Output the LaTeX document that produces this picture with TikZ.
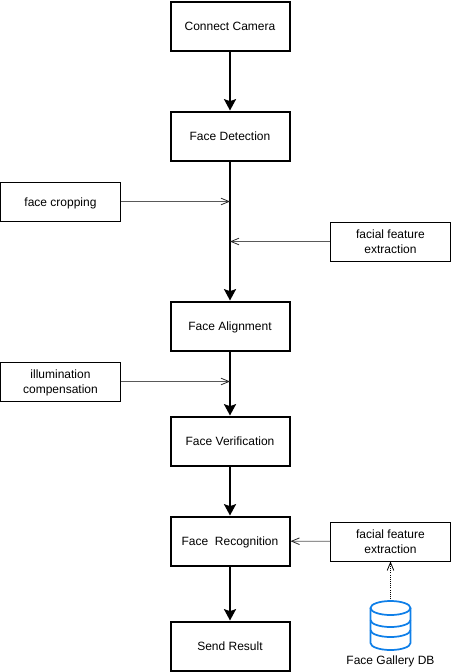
\documentclass[tikz,border=0pt]{standalone}
\usepackage{fontspec}
\setmainfont{Liberation Sans}
\usetikzlibrary{arrows.meta}
\newcommand\lbl[1]{\raisebox{-1.3pt}[\height][\depth]{\begin{tabular}{@{}c@{}}#1\end{tabular}}}
\definecolor{dbblue}{HTML}{0F7FE8}
\tikzset{
  x=0.75pt,y=-0.75pt,
  mainbox/.style={draw=black,line width=1.5pt,fill=white,minimum width=89.25pt,minimum height=36.75pt,inner sep=0pt,font=\fontsize{9}{11.25}\selectfont},
  sidebox/.style={draw=black,line width=0.75pt,fill=white,minimum width=90pt,minimum height=29.25pt,inner sep=0pt,font=\fontsize{9}{11.25}\selectfont},
  flow/.style={line width=1.5pt,-{Triangle[width=9pt,length=8.5pt,inset=1.5pt]}},
  thin arrow/.style={draw=black!65,line width=0.6pt,-{Straight Barb[length=6pt,width=5pt,black!85]}},
  dotted arrow/.style={line width=0.6pt,densely dotted,-{Straight Barb[length=6pt,width=5pt]}},
  dbline/.style={draw=dbblue,line width=1.3pt},
}
\begin{document}
\begin{tikzpicture}
\useasboundingbox (0,0) rectangle (451,672);
\node[mainbox] (cam) at (230,26) {\lbl{Connect Camera}};
\node[mainbox] (det) at (230,136) {\lbl{Face Detection}};
\node[mainbox] (ali) at (230,326) {\lbl{Face Alignment}};
\node[mainbox] (ver) at (230,441) {\lbl{Face Verification}};
\node[mainbox] (rec) at (230,541) {\lbl{Face\ \ Recognition}};
\node[mainbox] (res) at (230,646) {\lbl{Send Result}};
\node[sidebox] (crop) at (60.5,201.5) {\lbl{face cropping}};
\node[sidebox] (fe1) at (390.5,241.5) {\lbl{facial feature\\extraction}};
\node[sidebox] (ill) at (60.5,381.5) {\lbl{illumination\\compensation}};
\node[sidebox] (fe2) at (390.5,541.5) {\lbl{facial feature\\extraction}};
\coordinate (j1) at (230,201.5);
\coordinate (j2) at (230,241.5);
\coordinate (j3) at (230,381.5);
\coordinate (dbtop) at (390.5,601);
\draw[flow] (cam) -- (det);
\draw[flow] (det) -- (ali);
\draw[flow] (ali) -- (ver);
\draw[flow] (ver) -- (rec);
\draw[flow] (rec) -- (res);
\draw[thin arrow] (crop) -- (j1);
\draw[thin arrow] (fe1) -- (j2);
\draw[thin arrow] (ill) -- (j3);
\draw[thin arrow] (fe2) -- (rec);
\draw[dotted arrow] (dbtop) -- (fe2);
% database cylinder
\draw[dbline] (370.5,608) -- (370.5,643) arc[start angle=180,end angle=0,x radius=20,y radius=7] -- (410.5,608);
\draw[dbline] (390.5,608) ellipse[x radius=20,y radius=7];
\draw[dbline] (370.5,620) arc[start angle=180,end angle=0,x radius=20,y radius=7];
\draw[dbline] (370.5,630) arc[start angle=180,end angle=0,x radius=20,y radius=7];
\node[font=\fontsize{9}{11.25}\selectfont,inner sep=0pt] (dblabel) at (390.5,661.5) {Face Gallery DB};
\end{tikzpicture}
\end{document}
